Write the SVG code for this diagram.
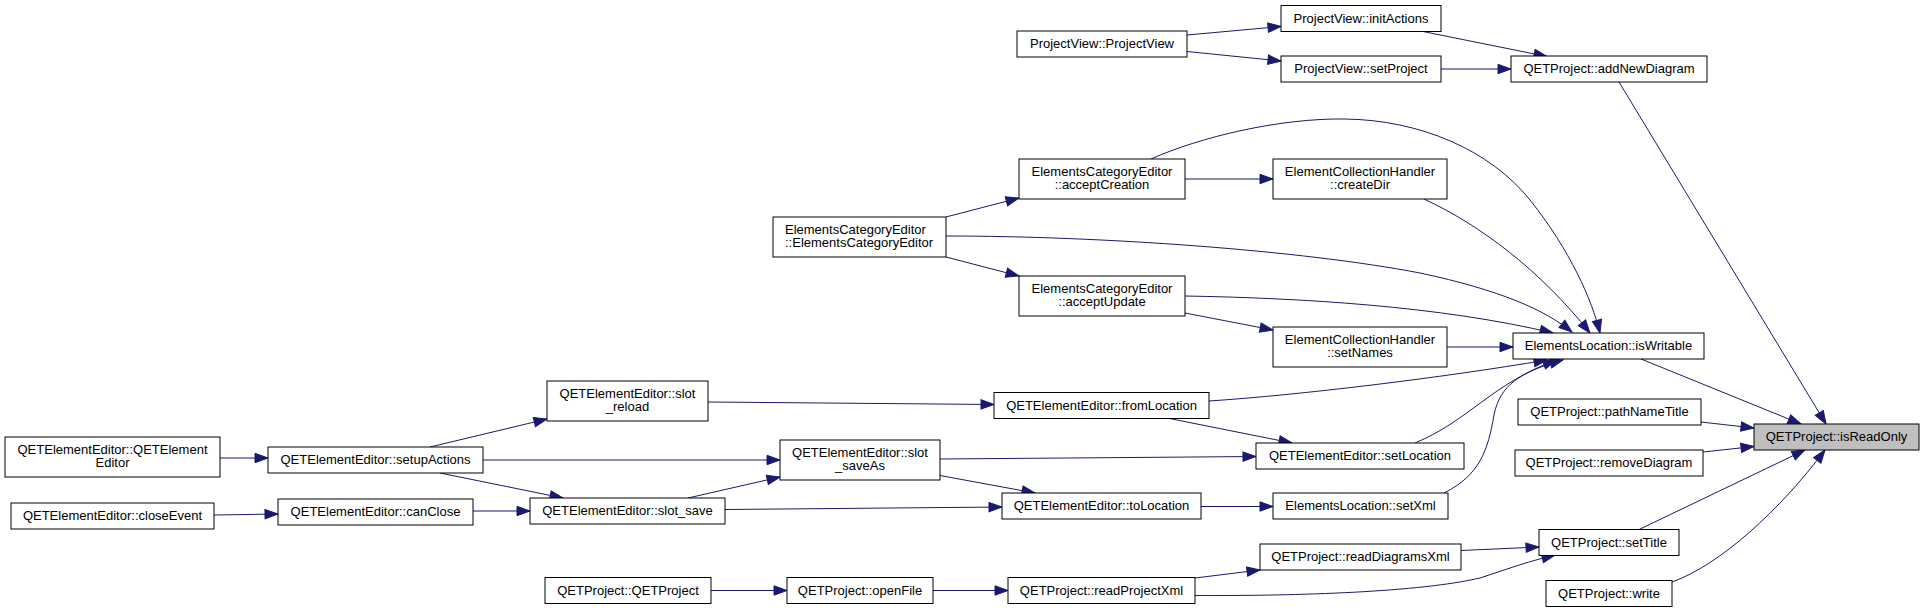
<svg xmlns="http://www.w3.org/2000/svg" width="1924" height="612" viewBox="0 0 1924 612">
<style>
.n rect{fill:#ffffff;stroke:#000000;stroke-width:1}
.n.hl rect{fill:#bfbfbf}
.n text{font-family:"Liberation Sans",Arial,Helvetica,sans-serif;font-size:13px;fill:#000000;text-anchor:middle}
.n text.l{text-anchor:start}
#edges path{fill:none;stroke:#191970;stroke-width:1;marker-end:url(#ah)}
</style>
<defs>
<marker id="ah" markerUnits="userSpaceOnUse" markerWidth="15" markerHeight="11" refX="13" refY="4.7" orient="auto" overflow="visible">
<path d="M0,0 L13,4.7 L0,9.4 z" fill="#191970" stroke="#191970" stroke-width="1"/>
</marker>
</defs>
<rect x="0" y="0" width="1924" height="612" fill="#ffffff"/>
<g id="edges">
<path d="M1187,35 L1281,26.5"/>
<path d="M1187,51.5 L1281,61"/>
<path d="M1423,31.5 L1547,56.5"/>
<path d="M1441,69 L1511,69"/>
<path d="M1619,82 L1826,424"/>
<path d="M1185,179 L1273,179"/>
<path d="M1151,159 C1200,137 1280,118 1345,119 C1420,120 1490,150 1530,200 C1570,250 1592,300 1600,333"/>
<path d="M1424,199 C1480,225 1540,270 1590,333"/>
<path d="M946,217 L1019,198"/>
<path d="M946,236 C1100,236 1300,250 1420,273 C1500,290 1545,310 1572,332"/>
<path d="M946,257 L1019,276"/>
<path d="M1185,296 C1300,298 1440,306 1553,333"/>
<path d="M1185,313 L1273,330"/>
<path d="M1447,347 L1513,347"/>
<path d="M708,402 L994,404.5"/>
<path d="M1209,401 C1300,395 1440,378 1547,360"/>
<path d="M1167,418 L1292,443"/>
<path d="M1415,443 C1470,420 1490,385 1556,360"/>
<path d="M1444,493 C1480,475 1488,450 1494,415 C1500,385 1520,372 1563,360"/>
<path d="M1641,359 L1801,424"/>
<path d="M1701,422 L1754,428"/>
<path d="M1703,452 L1754,446.5"/>
<path d="M1638,530 L1805,450"/>
<path d="M1672,582 C1720,565 1780,510 1825,450"/>
<path d="M430,447 L547,419"/>
<path d="M483,460 L780,460"/>
<path d="M440,473 L563,498"/>
<path d="M220,458 L268,458"/>
<path d="M214,515 L278,514"/>
<path d="M473,511 L530,511"/>
<path d="M688,498 L780,477"/>
<path d="M725,509.5 L1002,507"/>
<path d="M940,459 L1256,456.5"/>
<path d="M940,475.5 L1035,493"/>
<path d="M1201,506.5 L1273,506.5"/>
<path d="M1461,550.5 L1539,547"/>
<path d="M1195,578 L1260,570"/>
<path d="M1195,595.5 C1300,596 1420,592 1480,578 C1510,568 1530,561 1555,555"/>
<path d="M711,590.5 L787,590.5"/>
<path d="M933,590.5 L1008,590.5"/>
</g>
<g id="node_ProjectView_ProjectView" class="n"><rect x="1017" y="31" width="170" height="26"/><text x="1102" y="48">ProjectView::ProjectView</text></g>
<g id="node_ProjectView_initActions" class="n"><rect x="1281" y="5.5" width="160" height="26"/><text x="1361" y="22.5">ProjectView::initActions</text></g>
<g id="node_ProjectView_setProject" class="n"><rect x="1281" y="56" width="160" height="26"/><text x="1361" y="73">ProjectView::setProject</text></g>
<g id="node_QETProject_addNewDiagram" class="n"><rect x="1511" y="56" width="196" height="26"/><text x="1609" y="73">QETProject::addNewDiagram</text></g>
<g id="node_ECE_acceptCreation" class="n"><rect x="1019" y="159" width="166" height="40"/><text x="1102" y="175.5">ElementsCategoryEditor</text><text x="1102" y="189">::acceptCreation</text></g>
<g id="node_ECH_createDir" class="n"><rect x="1273" y="159" width="174" height="40"/><text x="1360" y="175.5">ElementCollectionHandler</text><text x="1360" y="189">::createDir</text></g>
<g id="node_ECE_ElementsCategoryEditor" class="n"><rect x="773" y="217" width="173" height="40"/><text class="l" x="785" y="233.5">ElementsCategoryEditor</text><text class="l" x="785" y="247">::ElementsCategoryEditor</text></g>
<g id="node_ECE_acceptUpdate" class="n"><rect x="1019" y="276" width="166" height="40"/><text x="1102" y="292.5">ElementsCategoryEditor</text><text x="1102" y="306">::acceptUpdate</text></g>
<g id="node_ECH_setNames" class="n"><rect x="1273" y="327" width="174" height="40"/><text x="1360" y="343.5">ElementCollectionHandler</text><text x="1360" y="357">::setNames</text></g>
<g id="node_ElementsLocation_isWritable" class="n"><rect x="1513" y="333" width="191" height="26"/><text x="1608.5" y="350">ElementsLocation::isWritable</text></g>
<g id="node_QEE_slot_reload" class="n"><rect x="547" y="381" width="161" height="40"/><text x="627.5" y="397.5">QETElementEditor::slot</text><text x="627.5" y="411">_reload</text></g>
<g id="node_QEE_fromLocation" class="n"><rect x="994" y="392.5" width="215" height="26"/><text x="1101.5" y="409.5">QETElementEditor::fromLocation</text></g>
<g id="node_QETProject_pathNameTitle" class="n"><rect x="1518" y="399" width="183" height="26"/><text x="1609.5" y="416">QETProject::pathNameTitle</text></g>
<g id="node_QETProject_isReadOnly" class="n hl"><rect x="1754" y="424" width="165" height="26"/><text x="1836.5" y="441">QETProject::isReadOnly</text></g>
<g id="node_QEE_QETElementEditor" class="n"><rect x="5" y="437" width="215" height="40"/><text x="112.5" y="453.5">QETElementEditor::QETElement</text><text x="112.5" y="467">Editor</text></g>
<g id="node_QEE_setupActions" class="n"><rect x="268" y="447" width="215" height="26"/><text x="375.5" y="464">QETElementEditor::setupActions</text></g>
<g id="node_QEE_slot_saveAs" class="n"><rect x="780" y="440" width="160" height="40"/><text x="860" y="456.5">QETElementEditor::slot</text><text x="860" y="470">_saveAs</text></g>
<g id="node_QEE_setLocation" class="n"><rect x="1256" y="443" width="208" height="26"/><text x="1360" y="460">QETElementEditor::setLocation</text></g>
<g id="node_QETProject_removeDiagram" class="n"><rect x="1515" y="450" width="188" height="26"/><text x="1609" y="467">QETProject::removeDiagram</text></g>
<g id="node_QEE_closeEvent" class="n"><rect x="11" y="503" width="203" height="26"/><text x="112.5" y="520">QETElementEditor::closeEvent</text></g>
<g id="node_QEE_canClose" class="n"><rect x="278" y="499" width="195" height="26"/><text x="375.5" y="516">QETElementEditor::canClose</text></g>
<g id="node_QEE_slot_save" class="n"><rect x="530" y="498" width="195" height="26"/><text x="627.5" y="515">QETElementEditor::slot_save</text></g>
<g id="node_QEE_toLocation" class="n"><rect x="1002" y="493" width="199" height="26"/><text x="1101.5" y="510">QETElementEditor::toLocation</text></g>
<g id="node_ElementsLocation_setXml" class="n"><rect x="1273" y="493" width="175" height="26"/><text x="1360.5" y="510">ElementsLocation::setXml</text></g>
<g id="node_QETProject_setTitle" class="n"><rect x="1539" y="529.5" width="140" height="26"/><text x="1609" y="546.5">QETProject::setTitle</text></g>
<g id="node_QETProject_readDiagramsXml" class="n"><rect x="1260" y="544" width="201" height="26"/><text x="1360.5" y="561">QETProject::readDiagramsXml</text></g>
<g id="node_QETProject_QETProject" class="n"><rect x="545" y="577.5" width="166" height="26"/><text x="628" y="594.5">QETProject::QETProject</text></g>
<g id="node_QETProject_openFile" class="n"><rect x="787" y="577.5" width="146" height="26"/><text x="860" y="594.5">QETProject::openFile</text></g>
<g id="node_QETProject_readProjectXml" class="n"><rect x="1008" y="577.5" width="187" height="26"/><text x="1101.5" y="594.5">QETProject::readProjectXml</text></g>
<g id="node_QETProject_write" class="n"><rect x="1546" y="580.5" width="126" height="26"/><text x="1609" y="597.5">QETProject::write</text></g>
</svg>
